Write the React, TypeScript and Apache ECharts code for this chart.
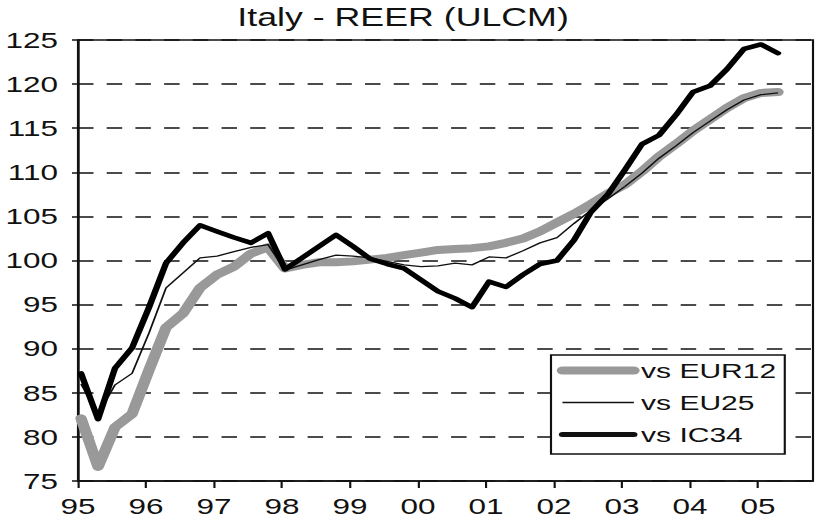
import React, { useEffect, useRef } from "react";
import * as echarts from "echarts";

// Quarterly data, 1995Q1 .. 2005Q2
const startYear = 1995;
const yearLabels = ["95", "96", "97", "98", "99", "00", "01", "02", "03", "04", "05"];
const seriesNames = ["vs EUR12", "vs EU25", "vs IC34"];

const eur12 = [82.1, 76.6, 81.1, 82.6, 87.6, 92.4, 94.0, 96.9, 98.4, 99.3, 100.8, 101.5, 99.1, 99.5, 99.8, 99.8, 99.9, 100.1, 100.3, 100.6, 100.9, 101.2, 101.3, 101.4, 101.6, 102.0, 102.5, 103.3, 104.3, 105.3, 106.4, 107.6, 108.6, 110.1, 111.8, 113.2, 114.7, 116.0, 117.3, 118.4, 119.0, 119.1];
const eu25 = [86.0, 82.5, 85.9, 87.2, 91.8, 96.9, 98.6, 100.3, 100.5, 101.0, 101.5, 101.8, 98.9, 99.5, 100.1, 100.6, 100.5, 100.3, 99.9, 99.5, 99.3, 99.4, 99.7, 99.5, 100.4, 100.3, 101.1, 102.0, 102.6, 104.2, 105.7, 107.0, 108.4, 109.9, 111.6, 113.0, 114.5, 115.8, 117.1, 118.2, 118.8, 119.0];
const ic34 = [87.2, 82.0, 87.8, 90.1, 94.7, 99.7, 102.0, 104.0, 103.3, 102.6, 102.0, 103.1, 99.0, 100.3, 101.6, 102.9, 101.6, 100.2, 99.6, 99.1, 97.8, 96.5, 95.7, 94.7, 97.6, 97.0, 98.4, 99.6, 100.0, 102.3, 105.5, 107.5, 110.3, 113.2, 114.2, 116.5, 119.1, 119.8, 121.7, 124.0, 124.5, 123.5];

const yTicks = { min: 75, max: 125, step: 5 };

// the reference picture is horizontally stretched
const CW = 575;
const CH = 525;
const SX = 822 / CW;

const toPoints = (vals: number[]) =>
  vals.map((v, i) => [startYear + (i + 0.18) / 4, v]);

const hiddenSymbol = { color: "transparent", borderWidth: 0, opacity: 0 };

export default function App() {
  const ref = useRef<HTMLDivElement>(null);
  useEffect(() => {
    if (!ref.current) return;
    const chart = echarts.init(ref.current, undefined, { renderer: "svg" });
    const font = "'Liberation Sans', Arial, sans-serif";
    chart.setOption({
      animation: false,
      backgroundColor: "#fff",
      title: {
        text: "Italy - REER (ULCM)",
        left: 166,
        top: 5,
        padding: 0,
        textStyle: { fontFamily: font, fontSize: 25, fontWeight: "normal", color: "#111" },
      },
      grid: {
        left: 78 / SX,
        right: CW - 813 / SX,
        top: 40,
        bottom: CH - 481,
        show: true,
        borderColor: "#111",
        borderWidth: 1.5,
        backgroundColor: "transparent",
      },
      legend: {
        orient: "vertical",
        left: 551 / SX,
        top: 355,
        align: "left",
        backgroundColor: "#fff",
        borderColor: "#111",
        borderWidth: 1.5,
        borderRadius: 0,
        padding: [5, 6, 9, 4],
        itemWidth: 50,
        itemHeight: 14,
        itemGap: 11,
        textStyle: { fontFamily: font, fontSize: 21, color: "#111" },
        data: [
          { name: seriesNames[0], lineStyle: { width: 8, color: "#999999", cap: "round" }, itemStyle: hiddenSymbol },
          { name: seriesNames[1], lineStyle: { width: 1.5, color: "#111" }, itemStyle: hiddenSymbol },
          { name: seriesNames[2], lineStyle: { width: 5, color: "#111", cap: "round" }, itemStyle: hiddenSymbol },
        ],
      },
      xAxis: {
        type: "value",
        min: startYear,
        max: startYear + 10.81,
        interval: 1,
        axisLine: { show: true, lineStyle: { color: "#111", width: 1.5 } },
        axisTick: { show: true, inside: false, length: 7, lineStyle: { color: "#111", width: 1.5 } },
        splitLine: { show: false },
        axisLabel: {
          fontFamily: font,
          fontSize: 22,
          color: "#111",
          margin: 14,
          showMaxLabel: false,
          formatter: (v: number) => {
            const k = Math.round(v - startYear);
            return Math.abs(v - startYear - k) < 1e-6 && k >= 0 && k < yearLabels.length ? yearLabels[k] : "";
          },
        },
      },
      yAxis: {
        type: "value",
        min: yTicks.min,
        max: yTicks.max,
        interval: yTicks.step,
        axisLine: { show: true, lineStyle: { color: "#111", width: 1.5 } },
        axisTick: { show: true, inside: false, length: 6 / SX, lineStyle: { color: "#111", width: 1.5 } },
        axisLabel: { fontFamily: font, fontSize: 22, color: "#111", margin: 14 },
        splitLine: {
          show: true,
          lineStyle: { color: "#111", width: 1.6, type: [15.5 / SX, 13.2 / SX] },
        },
      },
      series: [
        {
          name: seriesNames[0],
          type: "line",
          data: toPoints(eur12),
          symbol: "none",
          showSymbol: false,
          lineStyle: { color: "#999999", width: 8, cap: "round", join: "round" },
          itemStyle: { color: "#999999" },
          z: 2,
        },
        {
          name: seriesNames[1],
          type: "line",
          data: toPoints(eu25),
          symbol: "none",
          showSymbol: false,
          lineStyle: { color: "#111", width: 1.3, join: "round" },
          itemStyle: { color: "#111" },
          z: 3,
        },
        {
          name: seriesNames[2],
          type: "line",
          data: toPoints(ic34),
          symbol: "none",
          showSymbol: false,
          lineStyle: { color: "#000", width: 4.5, cap: "round", join: "round" },
          itemStyle: { color: "#000" },
          z: 4,
        },
      ],
    });
    return () => chart.dispose();
  }, []);
  return (
    <div
      ref={ref}
      style={{
        position: "fixed",
        left: 0,
        top: 0,
        width: CW,
        height: CH,
        transform: `scaleX(${SX})`,
        transformOrigin: "0 0",
        background: "#fff",
      }}
    />
  );
}
